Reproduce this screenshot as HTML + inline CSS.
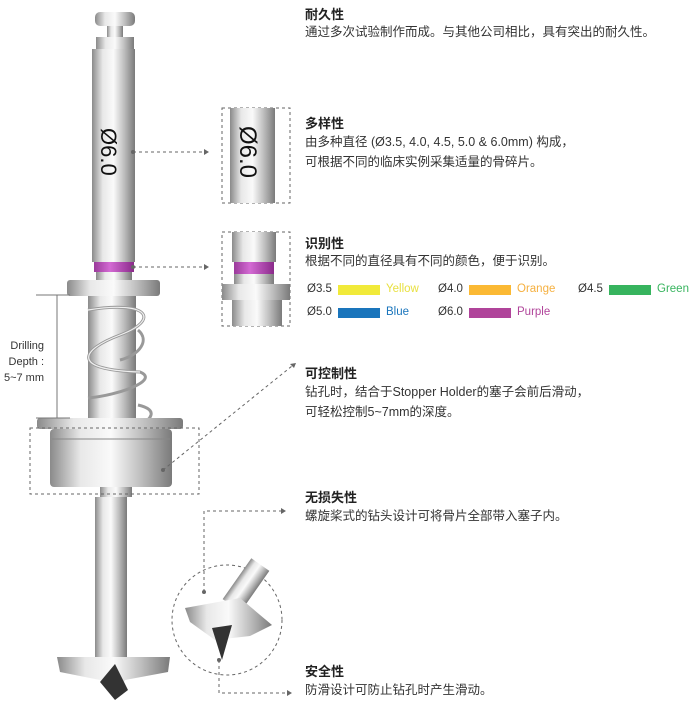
<!DOCTYPE html>
<html><head><meta charset="utf-8"><style>
body{margin:0;width:689px;height:703px;background:#fff;position:relative;overflow:hidden;font-family:"Liberation Sans","Noto Sans CJK SC",sans-serif;color:#222}
.t{position:absolute;left:305px;font-size:13px;font-weight:bold}
.d{position:absolute;left:305px;font-size:12.5px;line-height:20px;color:#333}
.lg{position:absolute;font-size:11.5px;color:#333}
.sw{position:absolute;width:42px;height:10px}
</style></head><body>
<svg width="689" height="703" style="position:absolute;left:0;top:0">
<defs>
<linearGradient id="m" x1="0" x2="1"><stop offset="0" stop-color="#8a8a8a"/><stop offset=".25" stop-color="#e8e8e8"/><stop offset=".5" stop-color="#fafafa"/><stop offset=".75" stop-color="#bdbdbd"/><stop offset="1" stop-color="#7a7a7a"/></linearGradient>
<linearGradient id="p" x1="0" x2="1"><stop offset="0" stop-color="#9a3a9a"/><stop offset=".4" stop-color="#d36ad3"/><stop offset="1" stop-color="#8a2a8a"/></linearGradient>
</defs>
<!-- drill head -->
<rect x="95" y="12" width="40" height="14" rx="5" fill="url(#m)"/>
<rect x="107" y="26" width="16" height="11" fill="url(#m)"/>
<rect x="96" y="37" width="38" height="12" fill="url(#m)"/>
<rect x="92" y="49" width="43" height="213" fill="url(#m)"/>
<text x="0" y="0" transform="translate(101,128) rotate(90)" font-size="22" fill="#111">Ø6.0</text>
<rect x="94" y="262" width="40" height="10" fill="url(#p)"/>
<rect x="96" y="272" width="36" height="8" fill="url(#m)"/>
<rect x="67" y="280" width="93" height="16" rx="3" fill="url(#m)"/>
<rect x="88" y="296" width="48" height="125" fill="url(#m)"/>
<!-- spring -->
<path d="M88 310 C150 300 160 320 120 335 C80 350 70 370 140 372 C160 380 120 395 88 398 M138 330 C150 340 140 355 120 360 M138 405 C160 410 150 420 140 425" stroke="#999" stroke-width="3" fill="none"/>
<path d="M88 310 C150 300 160 320 120 335 C80 350 70 370 140 372" stroke="#eee" stroke-width="1.2" fill="none"/>
<rect x="37" y="418" width="146" height="11" rx="3" fill="url(#m)"/>
<rect x="50" y="429" width="122" height="58" rx="4" fill="url(#m)"/>
<line x1="52" y1="439" x2="170" y2="439" stroke="#888"/>
<rect x="100" y="487" width="32" height="10" fill="url(#m)"/>
<rect x="95" y="497" width="32" height="160" fill="url(#m)"/>
<path d="M57 657 L170 657 L168 672 L125 680 L115 700 L100 680 L60 672 Z" fill="url(#m)"/>
<path d="M100 682 L115 664 L128 690 L115 700 Z" fill="#333"/>
<!-- dimension -->
<g stroke="#777" stroke-width="1" fill="none">
<line x1="36" y1="295" x2="70" y2="295"/><line x1="36" y1="418" x2="70" y2="418"/><line x1="57" y1="295" x2="57" y2="418"/>
</g>
<!-- dashed -->
<g stroke="#666" stroke-width="1" stroke-dasharray="3,3" fill="none">
<rect x="222" y="108" width="68" height="95"/>
<rect x="222" y="232" width="68" height="94"/>
<rect x="30" y="428" width="169" height="66"/>
<line x1="133" y1="152" x2="205" y2="152"/>
<line x1="133" y1="267" x2="205" y2="267"/>
<line x1="163" y1="470" x2="292" y2="366"/>
<circle cx="227" cy="620" r="55"/>
<polyline points="204,592 204,511 282,511"/>
<polyline points="219,660 219,693 288,693"/>
</g>
<g fill="#666"><circle cx="133" cy="152" r="2"/><circle cx="133" cy="267" r="2"/><circle cx="163" cy="470" r="2"/><circle cx="204" cy="592" r="2"/><circle cx="219" cy="660" r="2"/>
<path d="M209 152 l-5 -3 v6z"/><path d="M209 267 l-5 -3 v6z"/><path d="M296 363 l-6 1 4 4z"/><path d="M286 511 l-5 -3 v6z"/><path d="M292 693 l-5 -3 v6z"/></g>
<!-- zoom box contents -->
<clipPath id="c1"><rect x="222" y="108" width="68" height="95"/></clipPath>
<g clip-path="url(#c1)"><rect x="230" y="108" width="45" height="95" fill="url(#m)"/><text transform="translate(240,126) rotate(90)" font-size="24" fill="#111">Ø6.0</text></g>
<clipPath id="c2"><rect x="222" y="232" width="68" height="94"/></clipPath>
<g clip-path="url(#c2)"><rect x="232" y="232" width="44" height="30" fill="url(#m)"/><rect x="234" y="262" width="40" height="12" fill="url(#p)"/><rect x="234" y="274" width="40" height="10" fill="url(#m)"/><rect x="222" y="284" width="68" height="16" fill="url(#m)"/><rect x="232" y="300" width="50" height="26" fill="url(#m)"/></g>
<!-- circle content -->
<rect x="235" y="560" width="22" height="50" fill="url(#m)" transform="rotate(35 246 585)"/>
<path d="M185 608 L240 598 L272 625 L250 636 L215 640 L190 622 Z" fill="url(#m)"/>
<path d="M212 628 L232 625 L222 660 Z" fill="#333"/>
</svg>
<div style="position:absolute;left:0;width:44px;top:338px;font-size:11px;line-height:16px;text-align:right;color:#333">Drilling<br>Depth :<br>5~7 mm</div>
<div class="t" style="top:4px">耐久性</div>
<div class="d" style="top:22px">通过多次试验制作而成。与其他公司相比，具有突出的耐久性。</div>
<div class="t" style="top:113px">多样性</div>
<div class="d" style="top:132px">由多种直径 (Ø3.5, 4.0, 4.5, 5.0 &amp; 6.0mm) 构成，<br>可根据不同的临床实例采集适量的骨碎片。</div>
<div class="t" style="top:233px">识别性</div>
<div class="d" style="top:251px">根据不同的直径具有不同的颜色，便于识别。</div>
<div class="lg" style="left:307px;top:283px">Ø3.5</div><div class="sw" style="left:338px;top:285px;background:#f1ea3a"></div><div class="lg" style="left:386px;top:283px;color:#e8e040">Yellow</div>
<div class="lg" style="left:438px;top:283px">Ø4.0</div><div class="sw" style="left:469px;top:285px;background:#fbb934"></div><div class="lg" style="left:517px;top:283px;color:#f5b040">Orange</div>
<div class="lg" style="left:578px;top:283px">Ø4.5</div><div class="sw" style="left:609px;top:285px;background:#37b45e"></div><div class="lg" style="left:657px;top:283px;color:#37b45e">Green</div>
<div class="lg" style="left:307px;top:306px">Ø5.0</div><div class="sw" style="left:338px;top:308px;background:#1a75bc"></div><div class="lg" style="left:386px;top:306px;color:#1a75bc">Blue</div>
<div class="lg" style="left:438px;top:306px">Ø6.0</div><div class="sw" style="left:469px;top:308px;background:#b0449a"></div><div class="lg" style="left:517px;top:306px;color:#b0449a">Purple</div>
<div class="t" style="top:363px">可控制性</div>
<div class="d" style="top:382px">钻孔时，结合于Stopper Holder的塞子会前后滑动，<br>可轻松控制5~7mm的深度。</div>
<div class="t" style="top:487px">无损失性</div>
<div class="d" style="top:506px">螺旋桨式的钻头设计可将骨片全部带入塞子内。</div>
<div class="t" style="top:661px">安全性</div>
<div class="d" style="top:680px">防滑设计可防止钻孔时产生滑动。</div>
</body></html>
